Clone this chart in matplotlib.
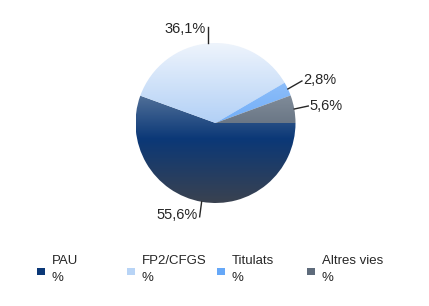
import matplotlib
matplotlib.use("Agg")
import matplotlib.pyplot as plt
import numpy as np
from matplotlib.colors import LinearSegmentedColormap
from matplotlib.patches import Rectangle

categories = ["PAU", "FP2/CFGS", "Titulats", "Altres vies"]
values = [55.6, 36.1, 2.8, 5.6]
labels = ["55,6%", "36,1%", "2,8%", "5,6%"]
legend_sub = ["%", "%", "%", "%"]

# gradient stops (top, middle, bottom) per slice
grad = [
    ["#a4b2c0", "#0b3877", "#3a4250"],
    ["#eef4fc", "#a6c9f5", "#8fb4e0"],
    ["#a8ccfa", "#66a8f8", "#4f8ad6"],
    ["#a8b2bc", "#5e6b7b", "#4a5462"],
]
swatch = ["#0b3877", "#b8d4f6", "#66a8f8", "#5e6b7b"]

W, H = 429, 306
fig = plt.figure(figsize=(W / 100, H / 100), dpi=100)
ax = fig.add_axes([0, 0, 1, 1])

cx, cy, r = 215.5, 123.0, 80.0
wedges, _ = ax.pie(values, startangle=0, counterclock=True, radius=r, center=(cx, cy),
                   wedgeprops=dict(linewidth=0, facecolor="none"), frame=True)
ax.set_xlim(0, W)
ax.set_ylim(H, 0)
ax.set_aspect("equal")
ax.axis("off")

yy = np.linspace(0, 1, 256).reshape(-1, 1)
for w, g in zip(wedges, grad):
    cmap = LinearSegmentedColormap.from_list("g", [(0, g[0]), (0.6, g[1]), (1, g[2])])
    im = ax.imshow(yy, cmap=cmap, extent=(cx - r, cx + r, cy + r, cy - r), aspect="auto",
                   interpolation="bilinear", zorder=1)
    im.set_clip_path(w)

ax.set_xlim(0, W)
ax.set_ylim(H, 0)

tc = "#262626"
font = dict(fontsize=10.5, color=tc, family="Liberation Sans")
for w, lab in zip(wedges, labels):
    ang = np.deg2rad((w.theta1 + w.theta2) / 2)
    dx, dy = np.cos(ang), np.sin(ang)
    x0, y0 = cx + r * dx, cy + r * dy
    if lab == "55,6%":
        x1, y1 = x0 - 2, y0 + 15
        ax.plot([x0, x1], [y0, y1], color=tc, lw=1)
        ax.text(x1 - 2, y1 - 2, lab, ha="right", va="center", **font)
    elif lab == "36,1%":
        x1, y1 = x0, y0 - 16
        ax.plot([x0, x1], [y0, y1], color=tc, lw=1)
        ax.text(x1 - 3, y1 + 1.5, lab, ha="right", va="center", **font)
    elif lab == "2,8%":
        x1, y1 = x0 + 14, y0 - 8
        ax.plot([x0, x1], [y0, y1], color=tc, lw=1)
        ax.text(x1 + 1, y1 - 0.5, lab, ha="left", va="center", **font)
    else:
        x1, y1 = x0 + 14, y0 - 3
        ax.plot([x0, x1], [y0, y1], color=tc, lw=1)
        ax.text(x1 + 1, y1 - 0.5, lab, ha="left", va="center", **font)

# legend
lx = [37, 127, 217, 307]
for x, c, name, sub in zip(lx, swatch, categories, legend_sub):
    ax.add_patch(Rectangle((x, 268), 8, 7, facecolor=c, edgecolor="none", zorder=3))
    ax.text(x + 15, 261, name, ha="left", va="center", fontsize=9.5, color=tc,
            family="Liberation Sans")
    ax.text(x + 15, 278, sub, ha="left", va="center", fontsize=9.5, color=tc,
            family="Liberation Sans")

fig.savefig("out.png", dpi=100)
